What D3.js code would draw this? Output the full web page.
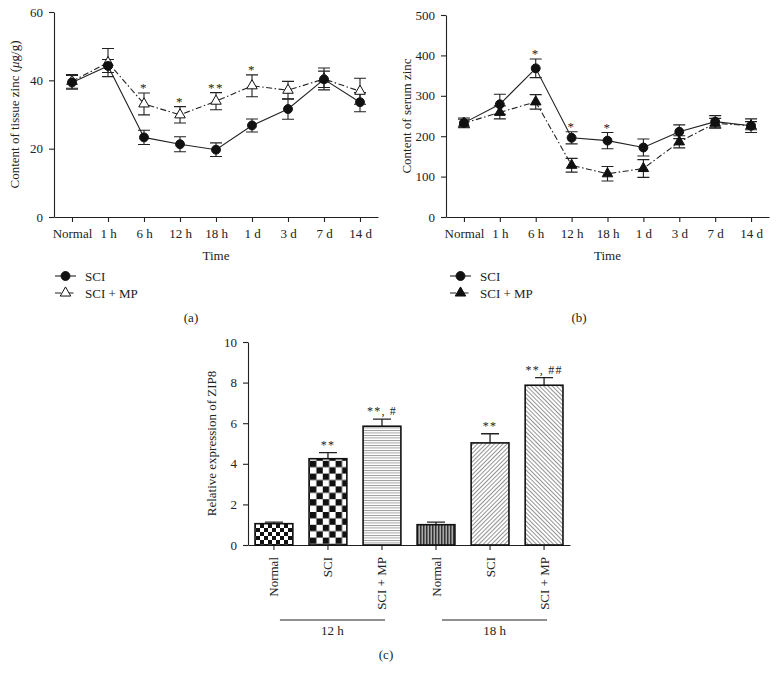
<!DOCTYPE html>
<html>
<head>
<meta charset="utf-8">
<script src="https://cdn.jsdelivr.net/npm/d3@7"></script>
<style>
  body { margin: 0; background: #fff; }
  svg text { font-family: "Liberation Serif", "DejaVu Serif", serif; fill: #222; }
</style>
</head>
<body>
<div id="chart"></div>
<script>
'use strict';

// time points shared by panels (a) and (b)
const timePoints = ['Normal', '1 h', '6 h', '12 h', '18 h', '1 d', '3 d', '7 d', '14 d'];

// (a) tissue zinc
const tissueSCI = [39.4, 44.2, 23.3, 21.3, 19.7, 26.8, 31.6, 40.3, 33.6];
const tissueSCIErr = [2.0, 1.9, 2.1, 2.2, 2.0, 1.9, 3.0, 2.4, 2.8];
const tissueMP = [39.7, 45.2, 33.1, 29.9, 33.9, 38.4, 37.1, 40.4, 36.8];
const tissueMPErr = [2.0, 4.1, 3.2, 2.4, 2.5, 3.2, 2.6, 3.2, 3.8];
const tissueSig = ['', '', '*', '*', '**', '*', '', '', ''];

// (b) serum zinc
const serumSCI = [233, 279, 368, 196, 189, 172, 211, 236, 226];
const serumSCIErr = [12, 25, 23, 15, 20, 21, 17, 15, 17];
const serumMP = [232, 259, 285, 128, 107, 120, 186, 232, 226];
const serumMPErr = [10, 16, 18, 17, 18, 22, 15, 12, 10];
const serumSig = ['', '', '*', '*', '*', '', '', '', ''];

// (c) ZIP8 expression
const zipLabels = ['Normal', 'SCI', 'SCI + MP', 'Normal', 'SCI', 'SCI + MP'];
const zipGroups = ['12 h', '12 h', '12 h', '18 h', '18 h', '18 h'];
const zipValues = [1.05, 4.25, 5.85, 1.0, 5.03, 7.87];
const zipErr = [0.08, 0.3, 0.35, 0.13, 0.45, 0.38];
const zipSig = ['', '**', '**, #', '', '**', '**, ##'];
const zipFills = ['checkSmall', 'checkLarge', 'hLines', 'vLines', 'diagUp', 'diagDown'];

((d3) => {
    const width = 778;
    const height = 682;
    const dashDot = '6,2.5,1.5,2.5';

    const svg = d3.select('#chart')
        .append('svg')
        .attr('width', width)
        .attr('height', height);

    svg.append('rect').attr('width', width).attr('height', height).attr('fill', '#fff');

//patterns for the bars
    const defs = svg.append('defs');

    const small = defs.append('pattern').attr('id', 'checkSmall')
        .attr('patternUnits', 'userSpaceOnUse').attr('width', 8).attr('height', 8);
    small.append('rect').attr('width', 8).attr('height', 8).attr('fill', '#fff');
    small.append('rect').attr('width', 4).attr('height', 4).attr('fill', '#111');
    small.append('rect').attr('x', 4).attr('y', 4).attr('width', 4).attr('height', 4).attr('fill', '#111');

    const large = defs.append('pattern').attr('id', 'checkLarge')
        .attr('patternUnits', 'userSpaceOnUse').attr('width', 12.8).attr('height', 12.8)
        .attr('x', 310).attr('y', 0);
    large.append('rect').attr('width', 12.8).attr('height', 12.8).attr('fill', '#fff');
    large.append('rect').attr('width', 6.4).attr('height', 6.4).attr('fill', '#111');
    large.append('rect').attr('x', 6.4).attr('y', 6.4).attr('width', 6.4).attr('height', 6.4).attr('fill', '#111');

    const hl = defs.append('pattern').attr('id', 'hLines')
        .attr('patternUnits', 'userSpaceOnUse').attr('width', 4).attr('height', 2.5);
    hl.append('rect').attr('width', 4).attr('height', 2.5).attr('fill', '#fff');
    hl.append('rect').attr('width', 4).attr('height', 0.9).attr('fill', '#999');

    const vl = defs.append('pattern').attr('id', 'vLines')
        .attr('patternUnits', 'userSpaceOnUse').attr('width', 3).attr('height', 4);
    vl.append('rect').attr('width', 3).attr('height', 4).attr('fill', '#aaa');
    vl.append('rect').attr('width', 1.5).attr('height', 4).attr('fill', '#333');

    [['diagUp', 45], ['diagDown', -45]].forEach(([id, angle]) => {
        const p = defs.append('pattern').attr('id', id)
            .attr('patternUnits', 'userSpaceOnUse').attr('width', 3).attr('height', 6)
            .attr('patternTransform', 'rotate(' + angle + ')');
        p.append('rect').attr('width', 3).attr('height', 6).attr('fill', '#fff');
        p.append('rect').attr('width', 0.9).attr('height', 6).attr('fill', '#888');
    });

//markers
    const circle = d3.symbol().type(d3.symbolCircle).size(62);
    const triangle = d3.symbol().type(d3.symbolTriangle).size(48);

    function styleAxis(g) {
        g.selectAll('path, line').attr('stroke', '#222').attr('stroke-width', 1.1);
        g.selectAll('text').attr('font-size', 13).attr('font-family', '"Liberation Serif", serif').attr('fill', '#222');
    }

//line panels (a) and (b)
    function linePanel(opt) {
        const x = d3.scalePoint().domain(timePoints).range([opt.left, opt.right]).padding(0.5);
        const y = d3.scaleLinear().domain([0, opt.max]).range([opt.bottom, opt.top]);

        svg.append('g')
            .attr('transform', 'translate(0,' + opt.bottom + ')')
            .call(d3.axisBottom(x).tickSize(5).tickSizeOuter(0).tickPadding(7))
            .call(styleAxis);

        svg.append('g')
            .attr('transform', 'translate(' + opt.left + ',0)')
            .call(d3.axisLeft(y).tickValues(d3.range(0, opt.max + 1, opt.step)).tickSize(5).tickSizeOuter(0).tickPadding(6))
            .call(styleAxis);

        svg.append('text')
            .attr('x', (opt.left + opt.right) / 2).attr('y', opt.bottom + 43)
            .attr('text-anchor', 'middle').attr('font-size', 13).text('Time');

        const ylab = svg.append('text')
            .attr('transform', 'translate(' + opt.ylabX + ',' + ((opt.top + opt.bottom) / 2) + ') rotate(-90)')
            .attr('text-anchor', 'middle').attr('font-size', 13);
        opt.ylab(ylab);

        const series = [
            { vals: opt.sci, err: opt.sciErr, dash: null, mark: circle, fill: '#111' },
            { vals: opt.mp, err: opt.mpErr, dash: dashDot, mark: triangle, fill: opt.mpFill }
        ];

        const line = d3.line().x((d, i) => x(timePoints[i])).y((d) => y(d));

        series.forEach((s) => {
            const g = svg.append('g');
            g.selectAll('path.err')
                .data(s.vals)
                .enter()
                .append('path')
                .attr('d', (d, i) => {
                    const cx = x(timePoints[i]);
                    const y1 = y(d + s.err[i]);
                    const y0 = y(d - s.err[i]);
                    return 'M' + (cx - 6) + ',' + y1 + 'H' + (cx + 6) +
                        'M' + cx + ',' + y1 + 'V' + y0 +
                        'M' + (cx - 6) + ',' + y0 + 'H' + (cx + 6);
                })
                .attr('stroke', '#222').attr('stroke-width', 1.1).attr('fill', 'none');
        });

        series.slice().reverse().forEach((s) => {
            svg.append('path')
                .attr('d', line(s.vals))
                .attr('fill', 'none').attr('stroke', '#222').attr('stroke-width', 1.1)
                .attr('stroke-dasharray', s.dash);
        });

        series.slice().reverse().forEach((s) => {
            svg.append('g').selectAll('path')
                .data(s.vals)
                .enter()
                .append('path')
                .attr('d', s.mark)
                .attr('transform', (d, i) => 'translate(' + x(timePoints[i]) + ',' + y(d) + ')')
                .attr('fill', s.fill).attr('stroke', '#111').attr('stroke-width', 1);
        });

        // significance marks above the highest error bar
        svg.append('g').selectAll('text')
            .data(opt.sig)
            .enter()
            .append('text')
            .attr('x', (d, i) => x(timePoints[i]))
            .attr('y', (d, i) => Math.min(y(opt.sci[i] + opt.sciErr[i]), y(opt.mp[i] + opt.mpErr[i])) - 1)
            .attr('text-anchor', 'middle').attr('font-size', 13).attr('letter-spacing', 1.5)
            .text((d) => d);

        // legend
        const lg = svg.append('g').attr('transform', 'translate(' + opt.legX + ',' + opt.legY + ')');
        series.forEach((s, i) => {
            const row = lg.append('g').attr('transform', 'translate(0,' + (i * 17) + ')');
            row.append('line').attr('x1', 0).attr('x2', 21)
                .attr('stroke', '#222').attr('stroke-width', 1.1).attr('stroke-dasharray', s.dash);
            row.append('path').attr('d', s.mark).attr('transform', 'translate(10.5,0)')
                .attr('fill', s.fill).attr('stroke', '#111');
            row.append('text').attr('x', 30).attr('y', 4.5).attr('font-size', 13)
                .text(i === 0 ? 'SCI' : 'SCI + MP');
        });

        svg.append('text').attr('x', opt.capX).attr('y', 322)
            .attr('text-anchor', 'middle').attr('font-size', 13).text(opt.cap);
    }

    linePanel({
        left: 54, right: 378, top: 12, bottom: 217, max: 60, step: 20,
        sci: tissueSCI, sciErr: tissueSCIErr, mp: tissueMP, mpErr: tissueMPErr, sig: tissueSig,
        mpFill: '#fff', ylabX: 19, legX: 55, legY: 276, capX: 191, cap: '(a)',
        ylab: (t) => {
            t.append('tspan').text('Content of tissue zinc (');
            t.append('tspan').attr('font-style', 'italic').text('\u03bc');
            t.append('tspan').text('g/g)');
        }
    });

    linePanel({
        left: 446, right: 769, top: 15, bottom: 217, max: 500, step: 100,
        sci: serumSCI, sciErr: serumSCIErr, mp: serumMP, mpErr: serumMPErr, sig: serumSig,
        mpFill: '#111', ylabX: 411, legX: 450, legY: 276, capX: 579, cap: '(b)',
        ylab: (t) => t.text('Content of serum zinc')
    });

//bar panel (c)
    const cLeft = 248, cRight = 570, cTop = 342, cBottom = 545;
    const xb = d3.scaleBand().domain(d3.range(zipValues.length)).range([cLeft, cRight])
        .paddingInner(0.3).paddingOuter(0.13);
    const yb = d3.scaleLinear().domain([0, 10]).range([cBottom, cTop]);

    svg.append('g')
        .attr('transform', 'translate(0,' + cBottom + ')')
        .call(d3.axisBottom(xb).tickSize(5).tickSizeOuter(0).tickFormat(''))
        .call(styleAxis);

    svg.append('g')
        .attr('transform', 'translate(' + cLeft + ',0)')
        .call(d3.axisLeft(yb).tickValues(d3.range(0, 11, 2)).tickSize(5).tickSizeOuter(0).tickPadding(6))
        .call(styleAxis);

    svg.append('text')
        .attr('transform', 'translate(216,' + ((cTop + cBottom) / 2) + ') rotate(-90)')
        .attr('text-anchor', 'middle').attr('font-size', 13)
        .text('Relative expression of ZIP8');

    const bars = svg.append('g').selectAll('g')
        .data(zipValues)
        .enter()
        .append('g');

    bars.append('path')
        .attr('d', (d, i) => {
            const cx = xb(i) + xb.bandwidth() / 2;
            const top = yb(d + zipErr[i]);
            return 'M' + cx + ',' + yb(d) + 'V' + top + 'M' + (cx - 9) + ',' + top + 'H' + (cx + 9);
        })
        .attr('stroke', '#222').attr('stroke-width', 1.3).attr('fill', 'none');

    bars.append('rect')
        .attr('x', (d, i) => xb(i))
        .attr('y', (d) => yb(d))
        .attr('width', xb.bandwidth())
        .attr('height', (d) => cBottom - yb(d))
        .attr('fill', (d, i) => 'url(#' + zipFills[i] + ')')
        .attr('stroke', '#111').attr('stroke-width', 1.6);

    bars.append('text')
        .attr('x', (d, i) => xb(i) + xb.bandwidth() / 2)
        .attr('y', (d, i) => yb(d + zipErr[i]) - 4)
        .attr('text-anchor', 'middle').attr('font-size', 12).attr('letter-spacing', 1.2)
        .text((d, i) => zipSig[i]);

    bars.append('text')
        .attr('transform', (d, i) => 'translate(' + (xb(i) + xb.bandwidth() / 2 + 4.5) + ',557) rotate(-90)')
        .attr('text-anchor', 'end').attr('font-size', 13)
        .text((d, i) => zipLabels[i]);

    // group brackets under the category labels
    const groupNames = Array.from(new Set(zipGroups));
    groupNames.forEach((gname) => {
        const idx = zipGroups.map((g, i) => (g === gname ? i : -1)).filter((i) => i >= 0);
        const x0 = xb(idx[0]) + xb.bandwidth() / 2 + 6;
        const x1 = xb(idx[idx.length - 1]) + xb.bandwidth() / 2 + 3;
        svg.append('line').attr('x1', x0).attr('x2', x1).attr('y1', 620).attr('y2', 620)
            .attr('stroke', '#222').attr('stroke-width', 1);
        svg.append('text').attr('x', (x0 + x1) / 2).attr('y', 635)
            .attr('text-anchor', 'middle').attr('font-size', 13).text(gname);
    });

    svg.append('text').attr('x', 386).attr('y', 659)
        .attr('text-anchor', 'middle').attr('font-size', 13).text('(c)');

})(window.d3);
</script>
</body>
</html>
